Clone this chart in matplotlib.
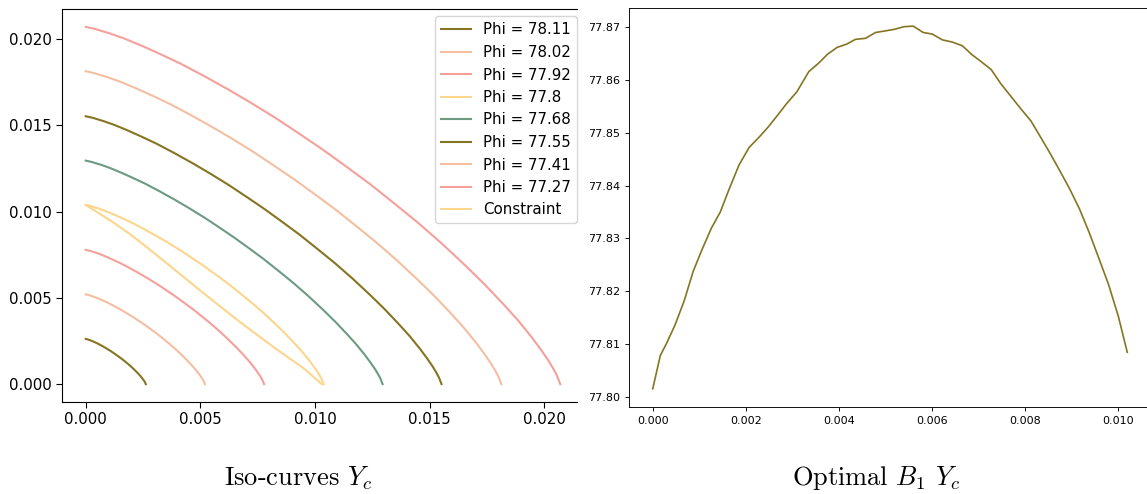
import numpy as np
import matplotlib
matplotlib.use("Agg")
import matplotlib.pyplot as plt

plt.rcParams['mathtext.fontset'] = 'cm'

# ---------------- data ----------------
# Iso-curve labels and their intercepts (value of Yc on both axes)
phi_labels = ["Phi = 78.11", "Phi = 78.02", "Phi = 77.92", "Phi = 77.8",
              "Phi = 77.68", "Phi = 77.55", "Phi = 77.41", "Phi = 77.27"]
iso_radius = [0.00262, 0.00520, 0.00778, 0.01038, 0.01295, 0.01552, 0.01813, 0.02070]

# normalised iso-curve shape (x/r, y/r)
shape_x = [0.000, 0.020, 0.050, 0.080, 0.120, 0.160, 0.200, 0.250, 0.300,
           0.350, 0.400, 0.450, 0.500, 0.550, 0.600, 0.650, 0.700, 0.750,
           0.800, 0.840, 0.880, 0.910, 0.940, 0.960, 0.975, 0.985, 0.993, 1.000]
shape_y = [1.000, 0.994, 0.982, 0.968, 0.946, 0.922, 0.897, 0.862, 0.825,
           0.786, 0.745, 0.701, 0.656, 0.608, 0.559, 0.506, 0.452, 0.394,
           0.332, 0.280, 0.224, 0.180, 0.131, 0.095, 0.066, 0.044, 0.024, 0.000]

# constraint curve
constraint_x = [0.0, 0.00040, 0.00080, 0.00120, 0.00160, 0.00200, 0.00250,
                0.00300, 0.00350, 0.00400, 0.00450, 0.00500, 0.00550, 0.00600,
                0.00650, 0.00700, 0.00750, 0.00800, 0.00850, 0.00900, 0.00950,
                0.01000, 0.01030]
constraint_y = [0.01038, 0.01005, 0.00971, 0.00937, 0.00900, 0.00862, 0.00811,
                0.00758, 0.00704, 0.00650, 0.00596, 0.00542, 0.00489, 0.00436,
                0.00384, 0.00333, 0.00283, 0.00234, 0.00186, 0.00139, 0.00092,
                0.00034, 0.0]

# optimal B1 Yc
opt_x = [0.000, 0.163, 0.303, 0.481, 0.675, 0.870, 1.064, 1.258, 1.452, 1.646,
         1.856, 2.073, 2.283, 2.477, 2.686, 2.880, 3.098, 3.354, 3.564, 3.758,
         3.967, 4.169, 4.356, 4.573, 4.790, 5.000, 5.194, 5.404, 5.598, 5.815,
         6.009, 6.227, 6.436, 6.654, 6.863, 7.073, 7.275, 7.484, 7.702, 7.911,
         8.129, 8.339, 8.533, 8.750, 8.960, 9.177, 9.387, 9.596, 9.798, 10.008,
         10.200]
opt_y = [77.8016, 77.8079, 77.8103, 77.8137, 77.8182, 77.8238, 77.8280, 77.8319,
         77.8350, 77.8394, 77.8439, 77.8472, 77.8491, 77.8510, 77.8533, 77.8555,
         77.8577, 77.8615, 77.8631, 77.8648, 77.8661, 77.8667, 77.8676, 77.8678,
         77.8689, 77.8692, 77.8695, 77.8700, 77.8701, 77.8689, 77.8686, 77.8675,
         77.8671, 77.8664, 77.8647, 77.8633, 77.8619, 77.8592, 77.8568, 77.8545,
         77.8522, 77.8491, 77.8462, 77.8428, 77.8394, 77.8355, 77.8310, 77.8261,
         77.8213, 77.8153, 77.8085]

palette = ['#857522', '#F4BFA1', '#F5A09A', '#FDD58C', '#6C9A83']

# ---------------- figure ----------------
W, H = 1147, 494
fig = plt.figure(figsize=(W / 100, H / 100), dpi=100)

def pos(l, t, r, b):
    return [l / W, (H - b) / H, (r - l) / W, (b - t) / H]

# left panel
ax1 = fig.add_axes(pos(62, 9, 584, 402))
sx = np.array(shape_x)
sy = np.array(shape_y)
for i, (lab, r) in enumerate(zip(phi_labels, iso_radius)):
    ax1.plot(sx * r, sy * r, color=palette[i % 5], lw=1.5, label=lab)
ax1.plot(constraint_x, constraint_y, color=palette[8 % 5], lw=1.5, label="Constraint")
ax1.tick_params(labelsize=10.8, length=4)
x0, x1 = ax1.get_xlim()
x_cut = x0 + (x1 - x0) * (577 - 62) / (584 - 62)
ax1.spines['right'].set_visible(False)
ax1.spines['top'].set_bounds(x0, x_cut)
ax1.spines['bottom'].set_bounds(x0, x_cut)
ax1.set_xlim(x0, x1)
ax1.legend(loc='upper right', fontsize=10.8, handlelength=2.0)

# right panel
ax2 = fig.add_axes(pos(629, 8, 1151, 407))
ax2.plot(np.array(opt_x) * 1e-3, opt_y, color=palette[0], lw=1.2)
ax2.tick_params(labelsize=8, length=2.8, width=0.65)
for s in ax2.spines.values():
    s.set_linewidth(0.65)
ax2.set_xticks([0.0, 0.002, 0.004, 0.006, 0.008, 0.010])
ax2.set_xlim(-0.00051, 0.01071)

# captions
fig.text(298 / W, (H - 478) / H, r"Iso-curves $Y_c$", ha='center', va='center',
         fontsize=19, family='cmr10')
fig.text(876 / W, (H - 478) / H, r"Optimal $B_1$ $Y_c$", ha='center', va='center',
         fontsize=19, family='cmr10')

fig.savefig("out.png", dpi=100)
